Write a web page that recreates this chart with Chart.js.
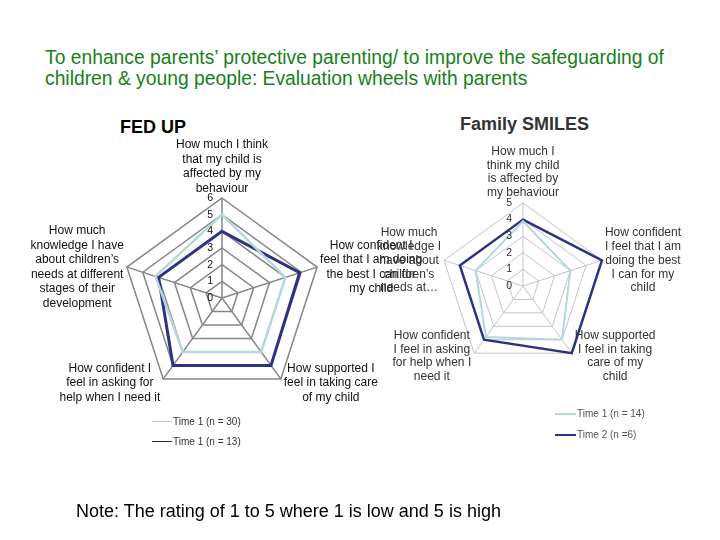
<!DOCTYPE html>
<html>
<head>
<meta charset="utf-8">
<script src="https://cdn.jsdelivr.net/npm/chart.js@4/dist/chart.umd.min.js"></script>
<style>
  body { margin: 0; width: 720px; height: 540px; background: #fff; position: relative; overflow: hidden;
         font-family: "Liberation Sans", Arial, sans-serif; }
  .abs { position: absolute; }
  .full { position: absolute; left: 0; top: 0; width: 720px; height: 540px; }
  #title { left: 45px; top: 47px; color: #17801a; font-size: 19.3px; line-height: 21px; }
  #fedTitle { left: 120px; top: 117px; font-weight: bold; font-size: 18px; color: #000; }
  #smTitle { left: 460px; top: 114px; font-weight: bold; font-size: 18px; color: #333; }
  #note { left: 76px; top: 501px; font-size: 18px; color: #000; }
  .leg { font-size: 10px; color: #333; display: flex; align-items: center; }
  .leg i { display: inline-block; width: 20px; margin-right: 1px; }
</style>
</head>
<body>
<div id="title" class="abs">To enhance parents’ protective parenting/ to improve the safeguarding of<br>children &amp; young people: Evaluation wheels with parents</div>
<div id="fedTitle" class="abs">FED UP</div>
<div id="smTitle" class="abs">Family SMILES</div>

<div class="full"><canvas id="fedChart"></canvas></div>
<div class="full"><canvas id="smChart"></canvas></div>

<div class="abs leg" style="left:152px; top:416px;"><i style="border-top:1px solid #c4cccc"></i>Time 1 (n = 30)</div>
<div class="abs leg" style="left:152px; top:436px;"><i style="border-top:1px solid #2b2b3f"></i>Time 1 (n = 13)</div>
<div class="abs leg" style="left:555px; top:408px; color:#555;"><i style="width:21px; border-top:2px solid #b4d8dc"></i>Time 1 (n = 14)</div>
<div class="abs leg" style="left:555px; top:429px; color:#555;"><i style="width:21px; border-top:2.5px solid #2e3283"></i>Time 2 (n =6)</div>

<div id="note" class="abs">Note: The rating of 1 to 5 where 1 is low and 5 is high</div>

<script>
// FED UP wheel
const fedLabels = [
  ['How much I think', 'that my child is', 'affected by my', 'behaviour'],
  ['How confident I', 'feel that I am doing', 'the best I can for', 'my child'],
  ['How supported I', 'feel in taking care', 'of my child'],
  ['How confident I', 'feel in asking for', 'help when I need it'],
  ['How much', 'knowledge I have', 'about children\u2019s', 'needs at different', 'stages of their', 'development']
];
const fedTime1 = [5, 4, 4, 4, 4.2];
const fedTime2 = [4, 4.9, 5, 5, 4];
const fedMax = 6;

// Family SMILES wheel
const smLabels = [
  ['How much I', 'think my child', 'is affected by', 'my behaviour'],
  ['How confident', 'I feel that I am', 'doing the best', 'I can for my', 'child'],
  ['How supported', 'I feel in taking', 'care of my', 'child'],
  ['How confident', 'I feel in asking', 'for help when I', 'need it'],
  ['How much', 'knowledge I', 'have about', 'children\u2019s', 'needs at\u2026']
];
const smTime1 = [3.9, 3, 4, 3.8, 3];
const smTime2 = [4, 5, 5, 4, 4];
const smMax = 5;

const lightBlue = '#b4d8dc';
const navy = '#2e3283';

// tick numbers 0..max just left of the top spoke
const tickLabels = {
  id: 'tickLabels',
  afterDatasetsDraw(chart, args, o) {
    const s = chart.scales.r, ctx = chart.ctx;
    ctx.save();
    ctx.font = o.font;
    ctx.fillStyle = o.color;
    ctx.textAlign = 'right';
    ctx.textBaseline = 'middle';
    s.ticks.forEach(t => {
      const d = s.getDistanceFromCenterForValue(t.value);
      ctx.fillText(String(t.value), s.xCenter + o.dx, s.yCenter - d);
    });
    ctx.restore();
  }
};

// centred multi-line labels next to each outer corner (Excel style)
const wheelLabels = {
  id: 'wheelLabels',
  afterDraw(chart, args, o) {
    const s = chart.scales.r, ctx = chart.ctx;
    ctx.save();
    ctx.font = o.font;
    ctx.fillStyle = o.color;
    ctx.textAlign = 'center';
    ctx.textBaseline = 'middle';
    chart.data.labels.forEach((lines, i) => {
      const p = s.getPointPosition(i, s.drawingArea);
      const w = Math.max(...lines.map(l => ctx.measureText(l).width));
      const h = lines.length * o.lineHeight;
      const deg = Math.round(s.getIndexAngle(i) * 180 / Math.PI) % 360;
      let cx, top;
      if (deg === 0) {
        cx = p.x;
        top = p.y - o.topPad - h;
      } else {
        cx = deg < 180 ? p.x + o.pad + w / 2 : p.x - o.pad - w / 2;
        top = p.y - h / 2 + (deg > 90 && deg < 270 ? o.lowShift : 0);
      }
      lines.forEach((l, k) => ctx.fillText(l, cx, top + o.lineHeight * (k + 0.5)));
    });
    ctx.restore();
  }
};

function wheel(id, labels, t1, t2, max, pad, look) {
  return new Chart(document.getElementById(id), {
    type: 'radar',
    data: {
      labels,
      datasets: [
        { label: 'Time 1', data: t1, borderColor: lightBlue, backgroundColor: 'transparent',
          borderWidth: look.w1, pointRadius: 0, fill: false },
        { label: 'Time 2', data: t2, borderColor: navy, backgroundColor: 'transparent',
          borderWidth: look.w2, pointRadius: 0, fill: false }
      ]
    },
    options: {
      responsive: true,
      maintainAspectRatio: false,
      animation: false,
      layout: { padding: pad },
      scales: {
        r: {
          min: 0,
          max,
          ticks: { stepSize: 1, display: false },
          grid: { color: look.grid, lineWidth: look.gw },
          angleLines: { color: look.grid, lineWidth: look.gw },
          pointLabels: { display: false }
        }
      },
      plugins: {
        legend: { display: false },
        tooltip: { enabled: false },
        tickLabels: look.ticks,
        wheelLabels: look.labels
      }
    },
    plugins: [tickLabels, wheelLabels]
  });
}

wheel('fedChart', fedLabels, fedTime1, fedTime2, fedMax,
  { left: 122, top: 198, right: 398, bottom: 142 },
  { w1: 2.5, w2: 3, grid: '#868686', gw: 1.5,
    ticks: { font: '10.5px "Liberation Sans"', color: '#111', dx: -9 },
    labels: { font: '12px "Liberation Sans"', color: '#111', lineHeight: 14.6, pad: 3, topPad: 2, lowShift: 4 } });

wheel('smChart', smLabels, smTime1, smTime2, smMax,
  { left: 440, top: 203, right: 114, bottom: 171 },
  { w1: 2, w2: 2.5, grid: '#c4c4c4', gw: 1,
    ticks: { font: '10.5px "Liberation Sans"', color: '#333', dx: -11 },
    labels: { font: '12px "Liberation Sans"', color: '#333', lineHeight: 13.9, pad: 3, topPad: 3, lowShift: 3 } });
</script>
</body>
</html>
